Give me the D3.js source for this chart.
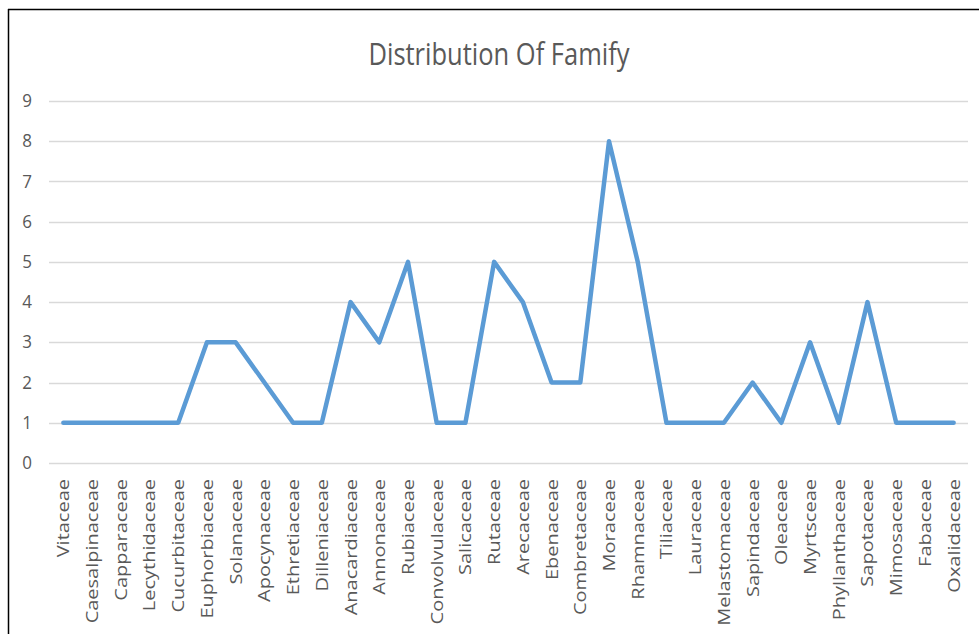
<!DOCTYPE html>
<html>
<head>
<meta charset="utf-8">
<script src="https://cdn.jsdelivr.net/npm/d3@7"></script>
<style>
  body { margin: 0; background: #fff; }
  svg { display: block; }
</style>
</head>
<body>
<div id="my_dataviz"></div>
<script>
// families along the x axis
var families = ["Vitaceae", "Caesalpinaceae", "Capparaceae", "Lecythidaceae", "Cucurbitaceae",
  "Euphorbiaceae", "Solanaceae", "Apocynaceae", "Ethretiaceae", "Dilleniaceae",
  "Anacardiaceae", "Annonaceae", "Rubiaceae", "Convolvulaceae", "Salicaceae",
  "Rutaceae", "Arecaceae", "Ebenaceae", "Combretaceae", "Moraceae",
  "Rhamnaceae", "Tiliaceae", "Lauraceae", "Melastomaceae", "Sapindaceae",
  "Oleaceae", "Myrtsceae", "Phyllanthaceae", "Sapotaceae", "Mimosaceae",
  "Fabaceae", "Oxalidaceae"];

// number of species per family
var counts = [1, 1, 1, 1, 1, 3, 3, 2, 1, 1, 4, 3, 5, 1, 1, 5, 4, 2, 2, 8, 5, 1, 1, 1, 2, 1, 3, 1, 4, 1, 1, 1];

var yTicks = [0, 1, 2, 3, 4, 5, 6, 7, 8, 9];

var W = 979, H = 634;
var margin = {top: 101, right: 11, bottom: 171, left: 49},
    width = W - margin.left - margin.right,
    height = H - margin.top - margin.bottom;

var root = d3.select("#my_dataviz")
  .append("svg")
    .attr("width", W)
    .attr("height", H);

// frame lines (left and top)
root.append("line").attr("x1", 8.5).attr("x2", 8.5).attr("y1", 9).attr("y2", H)
  .attr("stroke", "#000").attr("stroke-width", 1.5);
root.append("line").attr("x1", 8).attr("x2", W).attr("y1", 9.5).attr("y2", 9.5)
  .attr("stroke", "#000").attr("stroke-width", 1.5);

// title (the source picture is stretched a bit vertically)
root.append("text")
  .attr("transform", "translate(499,65) scale(1,1.2)")
  .attr("text-anchor", "middle")
  .style("font-family", "'Liberation Sans Narrow', 'Open Sans', sans-serif")
  .style("font-size", "25.5px")
  .style("fill", "#595959")
  .text("Distribution Of Famify");

var svg = root.append("g")
  .attr("transform", "translate(" + margin.left + "," + margin.top + ")");

var x = d3.scaleBand()
  .range([0, width])
  .domain(families);

var y = d3.scaleLinear()
  .domain([0, 9])
  .range([height, 0]);

// gridlines
svg.append("g")
  .selectAll("line")
  .data(yTicks)
  .enter()
  .append("line")
    .attr("x1", 0)
    .attr("x2", width)
    .attr("y1", function(d) { return Math.round(y(d)) + 0.5; })
    .attr("y2", function(d) { return Math.round(y(d)) + 0.5; })
    .attr("stroke", "#d9d9d9")
    .attr("stroke-width", 1.3);

// Y axis labels
var yAxis = svg.append("g")
  .call(d3.axisLeft(y).tickValues(yTicks).tickSize(0).tickPadding(17).tickFormat(d3.format("d")));
yAxis.select(".domain").remove();
yAxis.selectAll("text")
  .attr("transform", "scale(1,1.1)")
  .attr("dy", "0.3em")
  .style("font-family", "'Open Sans', sans-serif")
  .style("font-size", "17px")
  .style("fill", "#595959");

// X axis labels
var xAxis = svg.append("g")
  .attr("transform", "translate(0," + height + ")")
  .call(d3.axisBottom(x).tickSize(0));
xAxis.select(".domain").remove();
xAxis.selectAll("text")
  .attr("transform", "rotate(-90) scale(1,0.85)")
  .attr("x", -16)
  .attr("y", 0)
  .attr("dy", "0.35em")
  .attr("text-anchor", "end")
  .style("font-family", "'Open Sans', sans-serif")
  .style("font-size", "20px")
  .style("fill", "#595959");

// line
var line = d3.line()
  .x(function(d, i) { return x(families[i]) + x.bandwidth() / 2; })
  .y(function(d) { return y(d); });

svg.append("path")
  .datum(counts)
  .attr("fill", "none")
  .attr("stroke", "#5b9bd5")
  .attr("stroke-width", 4.5)
  .attr("stroke-linejoin", "round")
  .attr("stroke-linecap", "round")
  .attr("d", line);
</script>
</body>
</html>
